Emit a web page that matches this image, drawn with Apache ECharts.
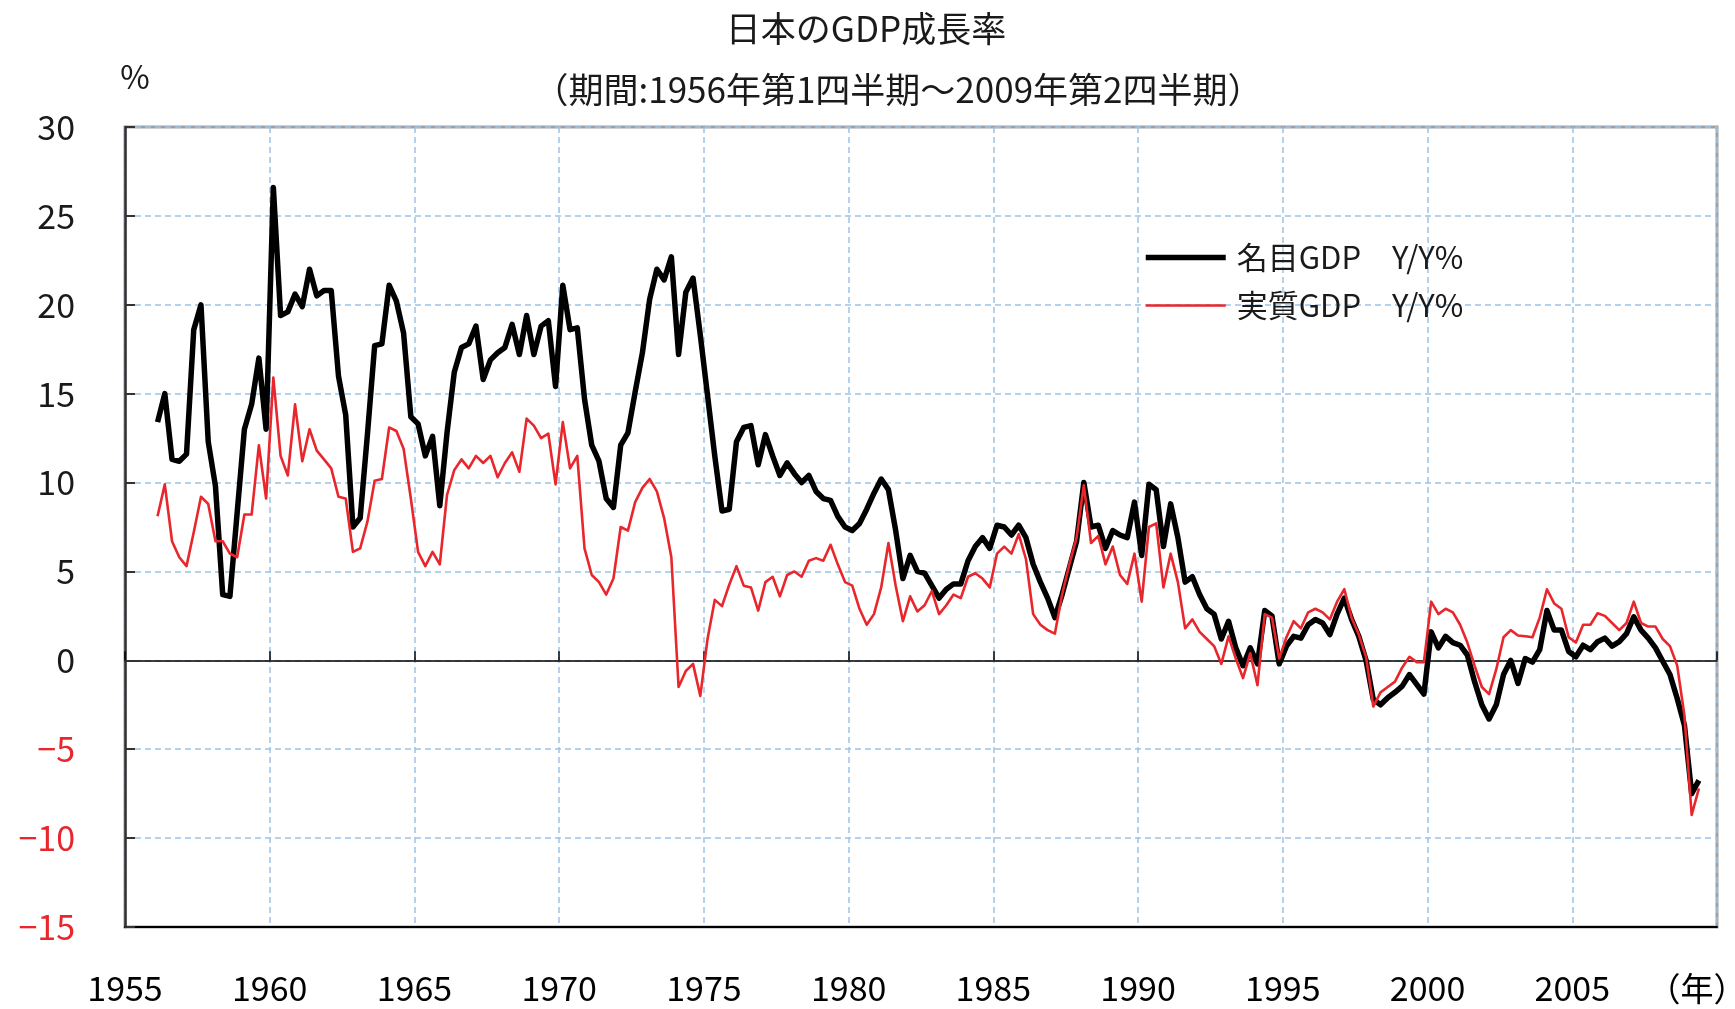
<!DOCTYPE html>
<html>
<head>
<meta charset="utf-8">
<title>日本のGDP成長率</title>
<script src="https://cdn.jsdelivr.net/npm/echarts@6/dist/echarts.min.js"></script>
<style>
  html, body { margin: 0; padding: 0; background: #fff; }
  #chart { width: 1735px; height: 1009px; }
</style>
</head>
<body>
<div id="chart"></div>
<script>
// 前年同期比(%)、1956年第1四半期〜2009年第2四半期
const startYear = 1956

const nominalGdp = [
  13.4, 15.0, 11.3, 11.2, // 1956
  11.6, 18.6, 20.0, 12.3,
  9.8, 3.7, 3.6, 8.3,
  13.0, 14.4, 17.0, 13.0,
  26.6, 19.4, 19.6, 20.6, // 1960
  19.9, 22.0, 20.5, 20.8,
  20.8, 16.0, 13.8, 7.5,
  8.0, 12.7, 17.7, 17.8,
  21.1, 20.2, 18.4, 13.7,
  13.3, 11.5, 12.6, 8.7, // 1965
  12.8, 16.2, 17.6, 17.8,
  18.8, 15.8, 16.9, 17.3,
  17.6, 18.9, 17.2, 19.4,
  17.2, 18.8, 19.1, 15.4,
  21.1, 18.6, 18.7, 14.7, // 1970
  12.1, 11.2, 9.1, 8.6,
  12.1, 12.8, 15.1, 17.3,
  20.3, 22.0, 21.4, 22.7,
  17.2, 20.7, 21.5, 18.3,
  14.9, 11.5, 8.4, 8.5, // 1975
  12.3, 13.1, 13.2, 11.0,
  12.7, 11.5, 10.4, 11.1,
  10.5, 10.0, 10.4, 9.5,
  9.1, 9.0, 8.1, 7.5,
  7.3, 7.7, 8.5, 9.4, // 1980
  10.2, 9.6, 7.3, 4.6,
  5.9, 5.0, 4.9, 4.2,
  3.5, 4.0, 4.3, 4.3,
  5.6, 6.4, 6.9, 6.3,
  7.6, 7.5, 7.05, 7.6, // 1985
  6.9, 5.4, 4.4, 3.5,
  2.4, 3.7, 5.2, 6.7,
  10.0, 7.5, 7.6, 6.3,
  7.3, 7.05, 6.9, 8.9,
  5.9, 9.9, 9.6, 6.4, // 1990
  8.8, 6.9, 4.4, 4.7,
  3.7, 2.9, 2.6, 1.2,
  2.2, 0.7, -0.3, 0.7,
  -0.2, 2.8, 2.5, -0.2,
  0.8, 1.35, 1.25, 2.0, // 1995
  2.3, 2.1, 1.45, 2.6,
  3.5, 2.3, 1.35, 0.0,
  -2.2, -2.5, -2.1, -1.8,
  -1.45, -0.8, -1.35, -1.9,
  1.6, 0.7, 1.35, 1.0, // 2000
  0.85, 0.3, -1.2, -2.5,
  -3.3, -2.5, -0.8, 0.0,
  -1.3, 0.1, -0.1, 0.6,
  2.8, 1.7, 1.7, 0.5,
  0.2, 0.85, 0.6, 1.05, // 2005
  1.25, 0.8, 1.05, 1.5,
  2.45, 1.7, 1.25, 0.7,
  -0.05, -0.8, -2.15, -3.65,
  -7.5, -6.75
]

const realGdp = [
  8.1, 9.9, 6.7, 5.8, // 1956
  5.3, 7.2, 9.2, 8.8,
  6.7, 6.7, 6.0, 5.8,
  8.2, 8.2, 12.1, 9.1,
  15.9, 11.5, 10.4, 14.4, // 1960
  11.2, 13.0, 11.8, 11.3,
  10.8, 9.2, 9.1, 6.1,
  6.3, 7.8, 10.1, 10.2,
  13.1, 12.9, 11.9, 9.1,
  6.1, 5.3, 6.1, 5.4, // 1965
  9.3, 10.7, 11.3, 10.8,
  11.5, 11.1, 11.5, 10.3,
  11.1, 11.7, 10.6, 13.6,
  13.2, 12.5, 12.75, 9.9,
  13.4, 10.8, 11.5, 6.3, // 1970
  4.8, 4.4, 3.7, 4.6,
  7.5, 7.3, 8.9, 9.7,
  10.2, 9.5, 8.0, 5.8,
  -1.5, -0.6, -0.2, -2.0,
  1.2, 3.4, 3.05, 4.25, // 1975
  5.3, 4.2, 4.1, 2.8,
  4.4, 4.7, 3.6, 4.8,
  5.0, 4.7, 5.6, 5.75,
  5.6, 6.5, 5.4, 4.4,
  4.2, 2.9, 2.0, 2.6, // 1980
  4.1, 6.6, 4.2, 2.2,
  3.6, 2.75, 3.1, 3.9,
  2.6, 3.1, 3.7, 3.5,
  4.7, 4.9, 4.6, 4.1,
  6.0, 6.4, 6.0, 7.1, // 1985
  5.7, 2.6, 2.0, 1.7,
  1.5, 3.7, 5.4, 6.9,
  9.85, 6.6, 7.0, 5.4,
  6.4, 4.8, 4.3, 6.0,
  3.3, 7.5, 7.7, 4.1, // 1990
  6.0, 4.4, 1.8, 2.3,
  1.6, 1.2, 0.8, -0.2,
  1.35, 0.1, -1.0, 0.4,
  -1.4, 2.6, 2.4, 0.1,
  1.3, 2.2, 1.8, 2.7, // 1995
  2.9, 2.7, 2.3, 3.3,
  4.0, 2.4, 1.45, 0.2,
  -2.6, -1.8, -1.5, -1.2,
  -0.4, 0.2, -0.1, -0.1,
  3.3, 2.6, 2.9, 2.7, // 2000
  2.0, 1.0, -0.3, -1.5,
  -1.9, -0.5, 1.3, 1.7,
  1.4, 1.35, 1.3, 2.4,
  4.0, 3.2, 2.9, 1.3,
  1.0, 2.0, 2.0, 2.65, // 2005
  2.5, 2.1, 1.7, 2.1,
  3.3, 2.1, 1.9, 1.9,
  1.2, 0.8, -0.3, -3.1,
  -8.7, -7.2
]

const seriesNames = ['名目GDP　Y/Y%', '実質GDP　Y/Y%']
const yearTicks = [1955, 1960, 1965, 1970, 1975, 1980, 1985, 1990, 1995, 2000, 2005, 2010]
const valueTicks = [-15, -10, -5, 0, 5, 10, 15, 20, 25, 30]

const font = '"Noto Sans CJK JP", "Noto Sans", sans-serif'
const gridColor = '#9dc3e6'
const red = '#e8262b'
const blackWidth = 5.5
const redWidth = 2.6

// 各四半期の中央に点を置く
const quarterPos = i => startYear + i * 0.25 + 0.125
const toPoints = arr => arr.map((v, i) => [quarterPos(i), v])

const xRange = { min: yearTicks[0], max: yearTicks[yearTicks.length - 1], interval: 5 }

const chart = echarts.init(document.getElementById('chart'))
chart.setOption({
  animation: false,
  backgroundColor: '#fff',
  textStyle: { fontFamily: font },
  title: [
    {
      text: '日本のGDP成長率',
      left: 866,
      top: 11,
      textAlign: 'center',
      padding: 0,
      textStyle: { fontSize: 35, fontWeight: 'normal', color: '#1a1a1a', fontFamily: font }
    },
    {
      text: '（期間:1956年第1四半期～2009年第2四半期）',
      left: 898,
      top: 72,
      textAlign: 'center',
      padding: 0,
      textStyle: { fontSize: 35, fontWeight: 'normal', color: '#1a1a1a', fontFamily: font }
    }
  ],
  legend: {
    orient: 'vertical',
    left: 1143,
    top: 242,
    padding: 0,
    itemWidth: 80,
    itemHeight: 30,
    itemGap: 17,
    itemStyle: { opacity: 0 },
    data: [
      { name: seriesNames[0], lineStyle: { color: '#000', width: blackWidth } },
      { name: seriesNames[1], lineStyle: { color: red, width: redWidth } }
    ],
    textStyle: { fontSize: 31, color: '#1a1a1a', padding: [0, 0, 0, 6] }
  },
  grid: {
    left: 125,
    right: 18,
    top: 127,
    bottom: 82,
    show: true,
    borderColor: '#a0a0a0',
    borderWidth: 3
  },
  xAxis: [
    {
      type: 'value',
      ...xRange,
      position: 'bottom',
      axisLine: { onZero: true, lineStyle: { color: '#000', width: 1.5 } },
      axisTick: { show: true, inside: true, length: 9, lineStyle: { color: '#000', width: 1.5 } },
      axisLabel: { show: false },
      splitLine: { show: true, lineStyle: { color: gridColor, type: [6, 4], width: 1.5 } }
    },
    {
      type: 'value',
      ...xRange,
      position: 'bottom',
      axisLine: { onZero: false, lineStyle: { color: '#000', width: 2 } },
      axisTick: { show: false },
      splitLine: { show: false },
      axisLabel: {
        margin: 44,
        fontSize: 34,
        color: '#000',
        formatter: v => (yearTicks.indexOf(v) >= 0 && v < 2010 ? String(v) : '')
      }
    }
  ],
  yAxis: {
    type: 'value',
    min: valueTicks[0],
    max: valueTicks[valueTicks.length - 1],
    interval: 5,
    axisLine: { show: true, onZero: false, lineStyle: { color: '#333', width: 2.5 } },
    axisTick: { show: true, inside: true, length: 10, lineStyle: { color: '#333', width: 2 } },
    splitLine: { show: true, lineStyle: { color: gridColor, type: [6, 4], width: 1.5 } },
    axisLabel: {
      margin: 50,
      fontSize: 34,
      color: v => (Number(v) < 0 ? red : '#1a1a1a'),
      formatter: v => String(v).replace('-', '−')
    }
  },
  graphic: [
    {
      type: 'text',
      x: 135,
      y: 77,
      style: { text: '%', font: '32px ' + font, fill: '#1a1a1a', align: 'center', verticalAlign: 'middle' }
    },
    {
      type: 'text',
      x: 1697,
      y: 988,
      style: { text: '（年）', font: '33px ' + font, fill: '#000', align: 'center', verticalAlign: 'middle' }
    }
  ],
  series: [
    {
      name: seriesNames[0],
      type: 'line',
      xAxisIndex: 0,
      data: toPoints(nominalGdp),
      symbol: 'none',
      z: 3,
      lineStyle: { color: '#000', width: blackWidth, join: 'round' },
      itemStyle: { color: '#000' }
    },
    {
      name: seriesNames[1],
      type: 'line',
      xAxisIndex: 0,
      data: toPoints(realGdp),
      symbol: 'none',
      z: 4,
      lineStyle: { color: red, width: redWidth, join: 'round' },
      itemStyle: { color: red }
    }
  ]
})
</script>
</body>
</html>
